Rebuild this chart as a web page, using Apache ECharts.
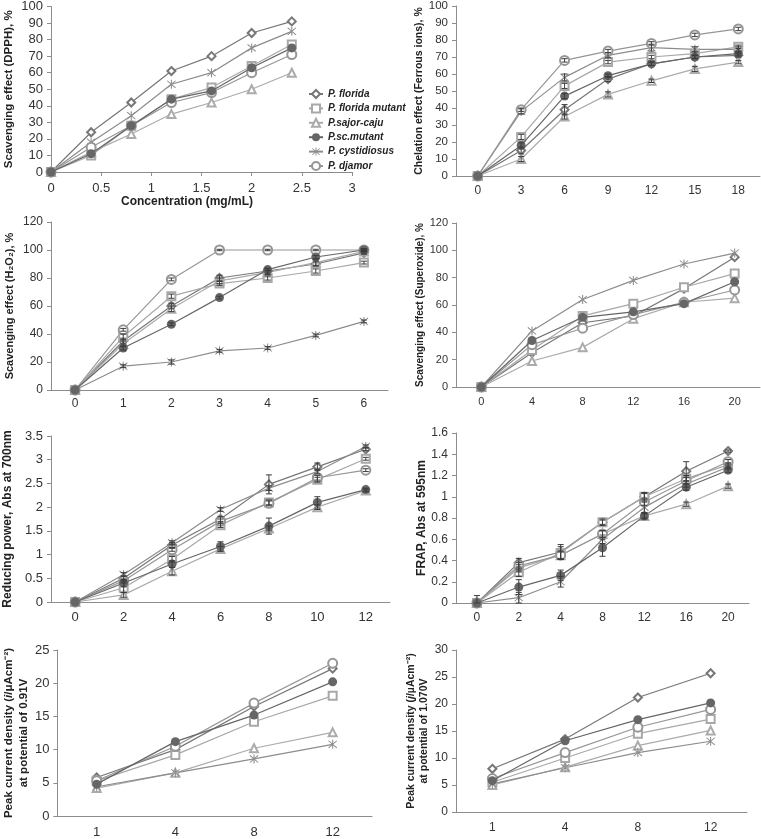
<!DOCTYPE html>
<html><head><meta charset="utf-8">
<script src="https://cdn.jsdelivr.net/npm/echarts@6/dist/echarts.min.js"></script>
<style>html,body{margin:0;padding:0;background:#fff}#c{width:761px;height:839px}</style>
</head><body><div id="c"></div>
<script>
const seriesNames = ['P. florida','P. florida mutant','P.sajor-caju','P.sc.mutant','P. cystidiosus','P. djamor'];

// Panel 1: DPPH (value x-axis)
const dpphX = [0,0.4,0.8,1.2,1.6,2.0,2.4];
const dpphY = [
  [0,24,42,61,70,84,91],
  [0,10,28,44,51,64,77],
  [0,12,23,35,42,50,60],
  [0,11,28,44,49,63,75],
  [0,18,34,53,60,75,85],
  [0,15,28,42,48,60,71]
];
// Panel 2: Chelation
const chelCats = ['0','3','6','9','12','15','18'];
const chelY = [
  [0,15,39,57,66,70,71],
  [0,23,53,67,70,72,76],
  [0,10,35,48,56,63,67],
  [0,18,47,59,66,70,72],
  [0,38,58,71,75.5,74.5,74.5],
  [0,39,68,73.5,78,83,86.5]
];
const chelErr = [
  [0,2,3,1.5,1,1,1],
  [0,1.5,1.5,1,1,1,1],
  [0,1.5,1.5,1.5,1,1.5,1],
  [0,1.5,1.5,1,1,1,1],
  [0,1.5,2,1.5,2,1.5,1.5],
  [0,1,1,1,1,1,1]
];
// Panel 3: H2O2
const h2o2Cats = ['0','1','2','3','4','5','6'];
const h2o2Y = [
  [0,35,60,80,85,90,98],
  [0,38,67,76,80,85,91],
  [0,33,58,78,84,91,99],
  [0,30,47,66,86,95,100],
  [0,17,20,28,30,39,49],
  [0,43,79,100,100,100,100]
];
const h2o2Err = [
  [0,2,2,2,1.5,1.5,1],
  [0,2,1.5,1.5,1.5,1.5,1],
  [0,2,2,2,1.5,2,1],
  [0,1.5,1,1,1,1,1],
  [0,1,1.5,1,1,1,1],
  [0,1,1,0.5,0.5,0.5,0.5]
];
// Panel 4: Superoxide
const superCats = ['0','4','8','12','16','20'];
const superY = [
  [0,25,47,52,72,95],
  [0,27,52,61,73,83],
  [0,19,29,50,62,65],
  [0,34,51,55,61,77],
  [0,41,64,78,90,98],
  [0,31,43,53,62,71]
];
// Panel 5: Reducing power
const redCats = ['0','2','4','6','8','10','12'];
const redY = [
  [0,0.5,1.2,1.75,2.48,2.85,3.22],
  [0,0.3,0.9,1.62,2.1,2.58,3.02],
  [0,0.15,0.65,1.12,1.55,2.0,2.35],
  [0,0.4,0.8,1.17,1.6,2.1,2.37],
  [0,0.58,1.25,1.95,2.4,2.75,3.28],
  [0,0.45,1.1,1.7,2.08,2.62,2.78]
];
const redErr = [
  [0,0.05,0.05,0.05,0.2,0.08,0.03],
  [0,0.1,0.06,0.05,0.05,0.05,0.03],
  [0,0.05,0.08,0.05,0.05,0.05,0.03],
  [0,0.08,0.07,0.1,0.17,0.12,0.03],
  [0,0.04,0.04,0.04,0.05,0.05,0.03],
  [0,0.03,0.03,0.05,0.05,0.05,0.03]
];
// Panel 6: FRAP
const frapCats = ['0','2','4','8','12','16','20'];
const frapY = [
  [0,0.38,0.48,0.76,1.0,1.24,1.43],
  [0,0.29,0.47,0.76,1.0,1.17,1.3],
  [0,0.33,0.45,0.65,0.82,0.93,1.1],
  [0,0.15,0.26,0.52,0.82,1.09,1.25],
  [0,0.05,0.2,0.6,0.9,1.12,1.28],
  [0,0.35,0.45,0.65,0.95,1.15,1.33]
];
const frapErr = [
  [0,0.04,0.07,0.02,0.04,0.09,0.01],
  [0,0.04,0.06,0.03,0.03,0.03,0.02],
  [0,0.03,0.03,0.03,0.02,0.02,0.02],
  [0,0.07,0.05,0.08,0.03,0.03,0.02],
  [0.07,0.05,0.05,0.04,0.05,0.03,0.02],
  [0,0.03,0.04,0.03,0.03,0.03,0.02]
];
// Panel 7: Peak current 0.91V
const peak1Cats = ['1','4','8','12'];
const peak1Y = [
  [5.8,10,16.5,22.2],
  [5.3,9.2,14.2,18.1],
  [4.2,6.5,10.2,12.6],
  [4.8,11.2,15.2,20.2],
  [4.4,6.5,8.6,10.8],
  [5.3,10.5,17,23]
];
// Panel 8: Peak current 1.070V
const peak2Cats = ['1','4','8','12'];
const peak2Y = [
  [8,13.5,21.2,25.7],
  [5.5,10,14.5,17.2],
  [5,8.3,12.3,15.1],
  [5.8,13.2,17.1,20.2],
  [5.2,8.2,11,13.1],
  [6.2,11,15.7,19]
];

const FONT = 'Liberation Sans, Arial, sans-serif';
const AST = 'path://M4.5,0L5.5,0L5.5,10L4.5,10Z M0.7,1.4L1.4,0.7L9.3,8.6L8.6,9.3Z M8.6,0.7L9.3,1.4L1.4,9.3L0.7,8.6Z';
const sty = [
  {symbol:'emptyDiamond', color:'#777777', size:8, bw:0.8},
  {symbol:'emptyRect', color:'#a8a8a8', size:8, bw:0.8},
  {symbol:'emptyTriangle', color:'#ababab', size:8, bw:0.8},
  {symbol:'circle', color:'#666666', size:9, bw:0},
  {symbol:AST, color:'#8c8c8c', size:9, bw:0},
  {symbol:'emptyCircle', color:'#969696', size:9, bw:0.8}
];
const axisColor = '#8c8c8c';

const grids = [
  {left:51, top:6, width:301, height:166},
  {left:456, top:5, width:304, height:171},
  {left:51, top:222, width:337, height:168},
  {left:456, top:223, width:304, height:164},
  {left:51, top:436, width:339, height:166},
  {left:456, top:433, width:293, height:170},
  {left:52, top:650, width:320, height:169},
  {left:456, top:650, width:291, height:162}
];

function xCat(gi, cats, fs, margin){
  return {type:'category', gridIndex:gi, data:cats, boundaryGap:true,
    axisLine:{lineStyle:{color:axisColor}}, axisTick:{length:4, lineStyle:{color:axisColor}},
    axisLabel:{color:'#333', fontSize:fs, fontFamily:FONT, margin:margin}, splitLine:{show:false}};
}
function yVal(gi, max, interval, fs, name, nfs, gap, extra){
  return {type:'value', gridIndex:gi, min:0, max:max, interval:interval,
    axisLine:{show:true, lineStyle:{color:axisColor}}, axisTick:{show:true, length:4, lineStyle:{color:axisColor}},
    axisLabel:{color:'#333', fontSize:fs, fontFamily:FONT, margin:8}, splitLine:{show:false},
    name:name, nameLocation:'middle', nameRotate:90, nameGap:gap,
    nameTextStyle:Object.assign({fontSize:nfs, fontWeight:'bold', fontFamily:FONT, color:'#222'}, extra||{})};
}

const xAxis = [
  {type:'value', gridIndex:0, min:0, max:3, interval:0.5,
    axisLine:{lineStyle:{color:axisColor}}, axisTick:{length:4, lineStyle:{color:axisColor}},
    axisLabel:{color:'#333', fontSize:13, fontFamily:FONT, margin:10}, splitLine:{show:false}},
  xCat(1, chelCats, 12, 9),
  xCat(2, h2o2Cats, 12, 8),
  xCat(3, superCats, 11, 9),
  xCat(4, redCats, 13, 9),
  xCat(5, frapCats, 12, 9),
  xCat(6, peak1Cats, 13, 10),
  xCat(7, peak2Cats, 12, 10)
];
const yAxis = [
  yVal(0, 100, 10, 13, 'Scavenging effect (DPPH), %', 11.5, 36),
  yVal(1, 100, 10, 11.5, 'Chelation effect (Ferrous ions), %', 10.5, 26),
  yVal(2, 120, 20, 12, 'Scavenging effect (H\u2082O\u2082), %', 11, 36),
  yVal(3, 120, 20, 11, 'Scavenging effect (Superoxide), %', 10, 26),
  yVal(4, 3.5, 0.5, 13, 'Reducing power, Abs at 700nm', 12, 37),
  yVal(5, 1.6, 0.2, 12, 'FRAP, Abs at 595nm', 12, 26),
  yVal(6, 25, 5, 13, 'Peak current density ({it|i}/\u03bcAcm\u207b\u00b2)\nat potential of 0.91V', 11.5, 24,
    {lineHeight:15, rich:{it:{fontStyle:'italic', fontWeight:'bold', fontSize:11.5, fontFamily:FONT, color:'#222'}}}),
  yVal(7, 30, 5, 12, 'Peak current density ({it|j}/\u00b5Acm\u207b\u00b2)\nat potential of 1.070V', 10.5, 20,
    {lineHeight:13, rich:{it:{fontStyle:'italic', fontWeight:'bold', fontSize:10.5, fontFamily:FONT, color:'#222'}}})
];

const panelData = [null, chelY, h2o2Y, superY, redY, frapY, peak1Y, peak2Y];
const panelErr = [null, chelErr, h2o2Err, null, redErr, frapErr, null, null];
const series = [];

function errorRender(params, api){
  const i = api.value(0), v = api.value(1), e = api.value(2);
  if (!e) return null;
  const top = api.coord([i, v + e]);
  const bot = api.coord([i, Math.max(0, v - e)]);
  const w = 3;
  const st = {stroke:'#3c3c3c', lineWidth:1};
  return {type:'group', children:[
    {type:'line', shape:{x1:top[0], y1:top[1], x2:bot[0], y2:bot[1]}, style:st},
    {type:'line', shape:{x1:top[0]-w, y1:top[1], x2:top[0]+w, y2:top[1]}, style:st},
    {type:'line', shape:{x1:bot[0]-w, y1:bot[1], x2:bot[0]+w, y2:bot[1]}, style:st}
  ]};
}

for (let g = 0; g < 8; g++) {
  for (let s = 0; s < 6; s++) {
    const st = sty[s];
    let data;
    if (g === 0) data = dpphX.map((x, i) => [x, dpphY[s][i]]);
    else data = panelData[g][s];
    series.push({
      type:'line', name:seriesNames[s], xAxisIndex:g, yAxisIndex:g, data:data,
      symbol:st.symbol, symbolSize:st.size, showAllSymbol:true,
      lineStyle:{color:st.color, width:1.2},
      itemStyle:{color:st.color, borderColor:st.color, borderWidth:st.bw},
      emphasis:{disabled:true}, animation:false, z: s===3 ? 4 : 3
    });
    if (panelErr[g]) {
      series.push({
        type:'custom', xAxisIndex:g, yAxisIndex:g, renderItem:errorRender,
        data: panelData[g][s].map((v, i) => [i, v, panelErr[g][s][i]]),
        z:5, silent:true, animation:false, clip:false
      });
    }
  }
}

const chart = echarts.init(document.getElementById('c'), null, {renderer:'canvas'});
chart.setOption({
  backgroundColor:'#fff',
  animation:false,
  grid:grids,
  xAxis:xAxis,
  yAxis:yAxis,
  legend:{data:seriesNames, orient:'vertical', left:303, top:84, itemGap:4.4, itemWidth:14, itemHeight:10,
    textStyle:{fontStyle:'italic', fontWeight:'bold', fontSize:10, lineHeight:10, fontFamily:FONT, color:'#222'}},
  graphic:[{type:'text', x:187, y:202, style:{text:'Concentration (mg/mL)', textAlign:'center', textVerticalAlign:'middle',
    font:'bold 12px Liberation Sans, Arial, sans-serif', fill:'#222'}}],
  series:series
});
</script></body></html>
